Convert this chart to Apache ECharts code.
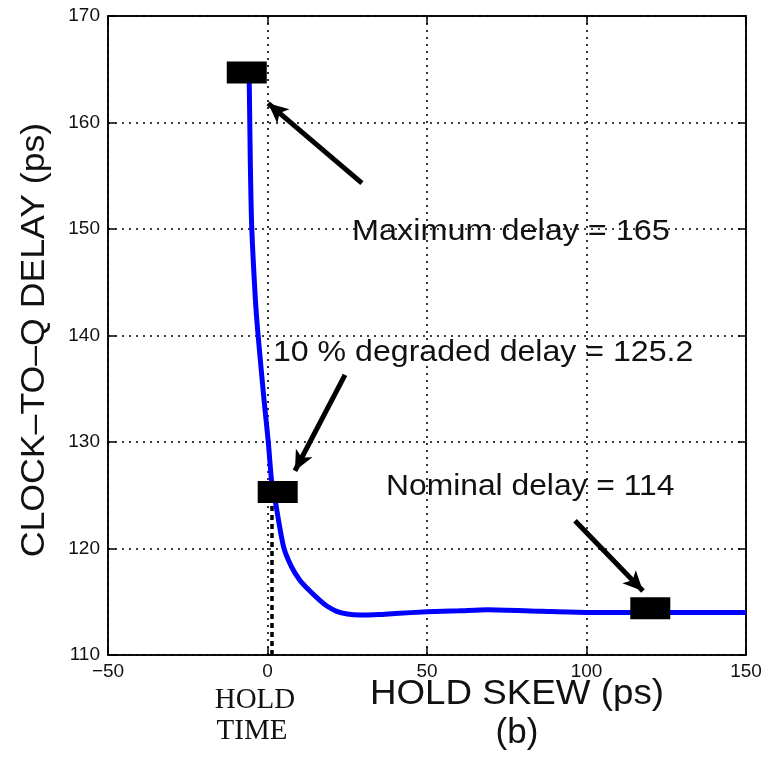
<!DOCTYPE html>
<html>
<head>
<meta charset="utf-8">
<script src="https://cdn.jsdelivr.net/npm/echarts@6/dist/echarts.min.js"></script>
<style>
  html, body { margin: 0; padding: 0; background: #fff; }
  #chart { width: 771px; height: 758px; }
</style>
</head>
<body>
<div id="chart"></div>
<script>
// clock-to-Q delay vs hold skew
var holdSkew = [-5.85, -5.7, -5.4, -4.95, -3.8, -3.0, -1.1, 0.25, 1.3, 2.35, 5.0, 7.5, 10.2, 13.3, 16.5, 18.6, 21.7, 25, 29, 35, 40, 50, 60, 69, 86, 100, 120, 150];
var clkQDelay = [165, 163.3, 156.5, 150.25, 143.4, 140.2, 134.0, 130.0, 126.3, 124.6, 120.2, 118.3, 117.0, 116.0, 115.1, 114.6, 114.1, 113.85, 113.75, 113.8, 113.9, 114.05, 114.15, 114.25, 114.1, 114.0, 114.0, 114.0];

// black markers: max, 10% degraded, nominal
var markerX = [-6.5, 3.2, 120];
var markerY = [164.7, 125.3, 114.4];

// annotation arrows [tail, tip] in data units
var arrowTails = [[29.6, 154.3], [24.3, 136.3], [96.4, 122.6]];
var arrowTips = [[0.2, 161.8], [8.6, 127.3], [117.7, 116.0]];

// hold time line
var holdTime = 1.3;
var holdTimeTop = 124.2;

var xTicks = [-50, 0, 50, 100, 150];
var yTicks = [110, 120, 130, 140, 150, 160, 170];

var chart = echarts.init(document.getElementById('chart'));

var sans = '"Liberation Sans", Arial, Helvetica, sans-serif';
var serif = '"Liberation Serif", "Times New Roman", serif';

var curve = holdSkew.map(function (x, i) { return [x, clkQDelay[i]]; });
var markers = markerX.map(function (x, i) { return [x, markerY[i]]; });

var arrowLines = arrowTails.map(function (t, i) {
    return [{coord: t}, {coord: arrowTips[i]}];
});

var gridLine = {show: true, lineStyle: {color: '#000', width: 1.6, type: [2, 5]}};
var tick = {show: true, inside: true, length: 8, lineStyle: {color: '#000', width: 1.5}};
var axLine = {show: true, onZero: false, lineStyle: {color: '#000', width: 1.5}};

option = {
    animation: false,
    backgroundColor: '#fff',
    grid: {
        left: 108, right: 25, top: 16, bottom: 103,
        show: true, borderColor: '#000', borderWidth: 1.5
    },
    xAxis: [{
        type: 'value', min: -50, max: 150, interval: 50,
        axisLine: axLine,
        axisTick: tick,
        splitLine: gridLine,
        axisLabel: {
            fontSize: 19, fontFamily: sans, color: '#111', margin: 7,
            formatter: function (v) { return xTicks.indexOf(v) >= 0 ? String(v).replace('-', '\u2212') : ''; }
        }
    }, {
        type: 'value', min: -50, max: 150, interval: 50, position: 'top',
        axisLine: axLine,
        axisTick: tick, splitLine: {show: false}, axisLabel: {show: false}
    }],
    yAxis: [{
        type: 'value', min: 110, max: 170, interval: 10,
        axisLine: axLine,
        axisTick: tick,
        splitLine: gridLine,
        axisLabel: {
            fontSize: 19, fontFamily: sans, color: '#111', margin: 8,
            formatter: function (v) { return yTicks.indexOf(v) >= 0 ? String(v) : ''; }
        }
    }, {
        type: 'value', min: 110, max: 170, interval: 10, position: 'right',
        axisLine: axLine,
        axisTick: tick, splitLine: {show: false}, axisLabel: {show: false}
    }],
    series: [
        {
            name: 'hold time',
            type: 'line',
            data: [],
            silent: true,
            markLine: {
                silent: true,
                symbol: ['none', 'none'],
                label: {show: false},
                lineStyle: {color: '#000', width: 3.5, type: [5, 4]},
                data: [[{coord: [holdTime, 110]}, {coord: [holdTime, holdTimeTop]}]]
            }
        },
        {
            name: 'delay',
            type: 'line',
            data: curve,
            smooth: 0.25,
            showSymbol: false,
            lineStyle: {color: '#0000ff', width: 5},
            z: 3
        },
        {
            name: 'markers',
            type: 'scatter',
            data: markers,
            symbol: 'rect',
            symbolSize: [40, 22],
            itemStyle: {color: '#000', opacity: 1},
            z: 4
        },
        {
            name: 'arrows',
            type: 'line',
            data: [],
            markLine: {
                silent: true,
                symbol: ['none', 'arrow'],
                symbolSize: [14, 20],
                label: {show: false},
                lineStyle: {color: '#000', width: 5, type: 'solid'},
                data: arrowLines
            },
            z: 5
        }
    ],
    graphic: [
        {type: 'text', x: 352, y: 232, scaleX: 1.08, z: 10,
            style: {text: 'Maximum delay = 165', font: '30px ' + sans, fill: '#111', align: 'left', verticalAlign: 'middle'}},
        {type: 'text', x: 273, y: 353, scaleX: 1.07, z: 10,
            style: {text: '10 % degraded delay = 125.2', font: '30px ' + sans, fill: '#111', align: 'left', verticalAlign: 'middle'}},
        {type: 'text', x: 386, y: 487, scaleX: 1.06, z: 10,
            style: {text: 'Nominal delay = 114', font: '30px ' + sans, fill: '#111', align: 'left', verticalAlign: 'middle'}},
        {type: 'text', x: 517, y: 694, scaleX: 1.05, z: 10,
            style: {text: 'HOLD SKEW (ps)', font: '35px ' + sans, fill: '#111', align: 'center', verticalAlign: 'middle'}},
        {type: 'text', x: 517, y: 733, z: 10,
            style: {text: '(b)', font: '35px ' + sans, fill: '#111', align: 'center', verticalAlign: 'middle'}},
        {type: 'text', x: 35, y: 340, rotation: Math.PI / 2, scaleX: 1.08, z: 10,
            style: {text: 'CLOCK\u2013TO\u2013Q DELAY (ps)', font: '33px ' + sans, fill: '#111', align: 'center', verticalAlign: 'middle'}},
        {type: 'text', x: 255, y: 700, z: 10,
            style: {text: 'HOLD', font: '29px ' + serif, fill: '#111', align: 'center', verticalAlign: 'middle'}},
        {type: 'text', x: 252, y: 731, z: 10,
            style: {text: 'TIME', font: '29px ' + serif, fill: '#111', align: 'center', verticalAlign: 'middle'}}
    ]
};

chart.setOption(option);
</script>
</body>
</html>
